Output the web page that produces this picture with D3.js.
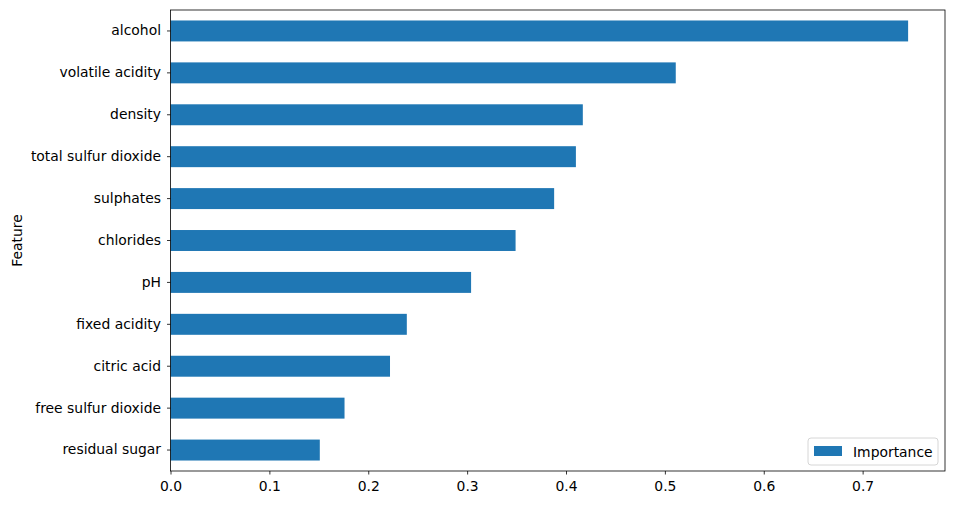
<!DOCTYPE html>
<html>
<head>
<meta charset="utf-8">
<script src="https://cdn.jsdelivr.net/npm/d3@7"></script>
<style>
  body { margin: 0; background: #fff; }
  svg text { font-family: "DejaVu Sans", sans-serif; }
</style>
</head>
<body>
<div id="container"></div>
<script>
// top to bottom, as drawn
const features = ['alcohol', 'volatile acidity', 'density', 'total sulfur dioxide', 'sulphates',
  'chlorides', 'pH', 'fixed acidity', 'citric acid', 'free sulfur dioxide', 'residual sugar'];
const importance = [0.746, 0.511, 0.417, 0.410, 0.388, 0.349, 0.304, 0.239, 0.222, 0.176, 0.151];
const xTicks = [0, 0.1, 0.2, 0.3, 0.4, 0.5, 0.6, 0.7];
const seriesName = 'Importance';

const width = 954, height = 505;
const margin = { top: 10, right: 9, bottom: 34, left: 170.5 };
const color = '#1f77b4';

const svg = d3.select('#container').append('svg')
  .attr('width', width)
  .attr('height', height);

const x = d3.scaleLinear()
  .domain([0, d3.max(importance) * 1.05])
  .range([margin.left, width - margin.right]);

const y = d3.scaleBand()
  .domain(features)
  .range([margin.top, height - margin.bottom])
  .paddingInner(0.5)
  .paddingOuter(0.25);

svg.append('g')
  .selectAll('rect')
  .data(features)
  .join('rect')
    .attr('x', x(0))
    .attr('y', d => y(d))
    .attr('width', (d, i) => x(importance[i]) - x(0))
    .attr('height', y.bandwidth())
    .attr('fill', color);

const xAxis = svg.append('g')
  .attr('transform', `translate(0,${height - margin.bottom})`)
  .call(d3.axisBottom(x).tickValues(xTicks).tickFormat(d3.format('.1f')).tickSize(3.5).tickPadding(6.5));

const yAxis = svg.append('g')
  .attr('transform', `translate(${margin.left},0)`)
  .call(d3.axisLeft(y).tickSize(3.5).tickPadding(6));

[xAxis, yAxis].forEach(a => {
  a.select('.domain').remove();
  a.selectAll('text').attr('font-size', '13.9px').attr('fill', '#000').style('font-family', '"DejaVu Sans", sans-serif');
  a.selectAll('line').attr('stroke', '#000').attr('stroke-width', 0.8);
});

// frame
svg.append('rect')
  .attr('x', margin.left)
  .attr('y', margin.top)
  .attr('width', width - margin.right - margin.left)
  .attr('height', height - margin.bottom - margin.top)
  .attr('fill', 'none')
  .attr('stroke', '#000')
  .attr('stroke-width', 0.8);

svg.append('text')
  .attr('transform', `translate(22,${(margin.top + height - margin.bottom) / 2}) rotate(-90)`)
  .attr('text-anchor', 'middle')
  .attr('font-size', '13.9px')
  .text('Feature');

// legend
const legend = svg.append('g').attr('transform', 'translate(808,438)');
legend.append('rect')
  .attr('width', 130).attr('height', 27).attr('rx', 3)
  .attr('fill', '#fff').attr('fill-opacity', 0.8)
  .attr('stroke', '#ccc').attr('stroke-width', 0.8);
legend.append('rect')
  .attr('x', 6).attr('y', 8).attr('width', 28).attr('height', 10)
  .attr('fill', color);
legend.append('text')
  .attr('x', 45).attr('y', 18.5)
  .attr('font-size', '13.9px')
  .text(seriesName);
</script>
</body>
</html>
